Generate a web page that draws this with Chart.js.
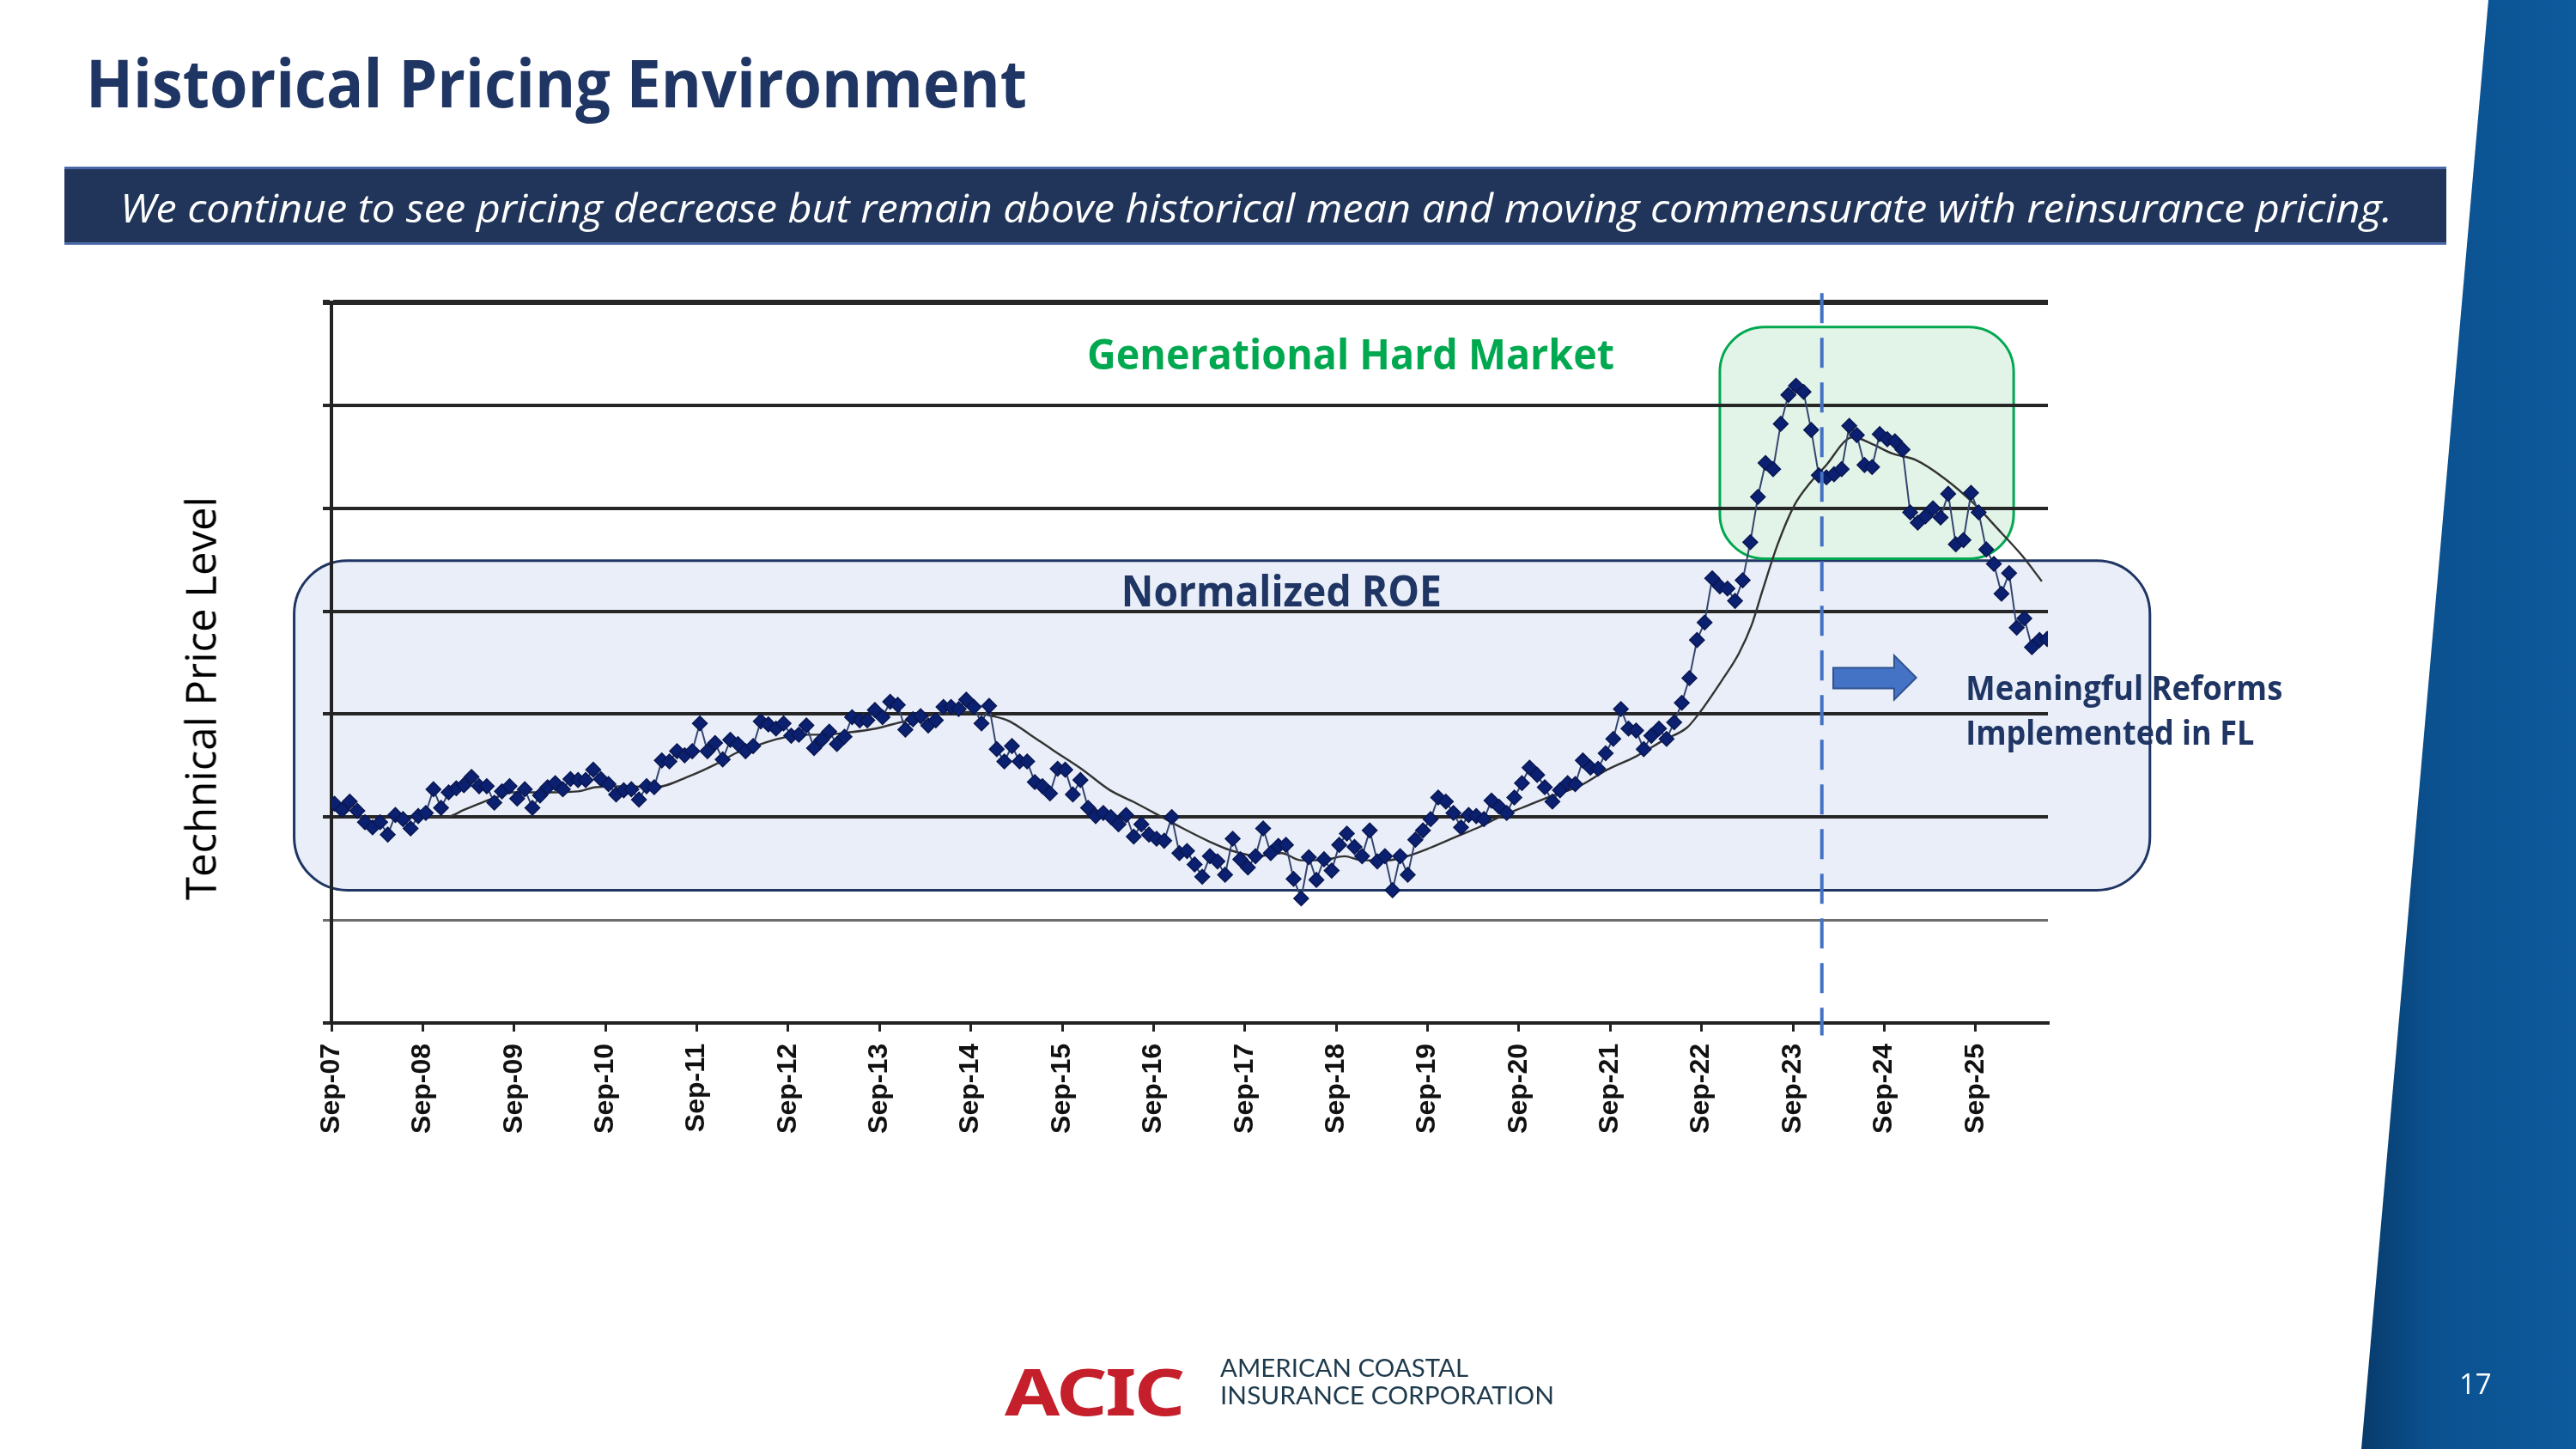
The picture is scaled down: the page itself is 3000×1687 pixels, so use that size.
<!DOCTYPE html>
<html>
<head>
<meta charset="utf-8">
<script src="https://cdn.jsdelivr.net/npm/chart.js@4.4.1/dist/chart.umd.min.js"></script>
<style>
html, body { margin: 0; padding: 0; background: #fff; }
#page { position: relative; width: 3000px; height: 1687px; overflow: hidden; background: #fff; }
#band { position: absolute; left: 2740px; top: 0; width: 260px; height: 1687px;
  background: linear-gradient(90deg, #073866 0%, #0b5190 35%, #0d5a9c 100%);
  clip-path: polygon(158px 0, 260px 0, 260px 1687px, 10px 1687px); }
#banner { position: absolute; left: 75px; top: 194px; width: 2774px; height: 85px;
  background: #203559; border-top: 3px solid #4a69a8; border-bottom: 3px solid #4a69a8; }
.txt { position: absolute; white-space: nowrap; line-height: 1; transform-origin: 0 0; }
#chart { position: absolute; left: 0; top: 0; }
</style>
</head>
<body>
<div id="page">
  <div id="band"></div>
  <div id="banner"></div>
  <canvas id="chart" width="3000" height="1687"></canvas>

  <div class="txt" data-w="1096" style="left:100px;top:43px;font:700 77px 'Open Sans';color:#1f3563;">Historical Pricing Environment</div>
  <div class="txt" data-w="2646" style="left:140px;top:210px;font:italic 400 46px 'Open Sans';color:#fff;">We continue to see pricing decrease but remain above historical mean and moving commensurate with reinsurance pricing.</div>
  <div class="txt" id="ylabel" style="font:400 49px 'Open Sans';color:#000;">Technical Price Level</div>

  <div class="txt" data-w="208" style="left:1170px;top:1568px;font:700 75px 'Noto Sans';color:#c41f2b;letter-spacing:-2px;">ACIC</div>
  <div class="txt" data-w="289" style="left:1421px;top:1575px;font:400 28px 'Lato';color:#1e3a4c;">AMERICAN COASTAL</div>
  <div class="txt" data-w="389" style="left:1421px;top:1607px;font:400 28px 'Lato';color:#1e3a4c;">INSURANCE CORPORATION</div>
  <div class="txt" style="left:2864px;top:1588px;font:400 33px 'Open Sans';color:#fff;">17</div>
</div>

<script>
// x axis: months since Sep-07
var tickMonths = [0, 12, 24, 36, 48, 60, 72, 84, 96, 108, 120, 132, 144, 156, 168, 180, 192, 204, 216];
var tickLabels = ['Sep-07', 'Sep-08', 'Sep-09', 'Sep-10', 'Sep-11', 'Sep-12', 'Sep-13', 'Sep-14', 'Sep-15',
  'Sep-16', 'Sep-17', 'Sep-18', 'Sep-19', 'Sep-20', 'Sep-21', 'Sep-22', 'Sep-23', 'Sep-24', 'Sep-25'];

// monthly technical price level, first point ~Sep-07
var priceLevel = [
  2.13, 2.07, 2.15, 2.06, 1.95, 1.90, 1.95, 1.83, 2.02, 1.98, 1.89, 2.01,
  2.04, 2.27, 2.09, 2.24, 2.28, 2.31, 2.39, 2.30, 2.30, 2.14, 2.25, 2.30,
  2.18, 2.27, 2.09, 2.21, 2.29, 2.33, 2.27, 2.37, 2.36, 2.36, 2.46, 2.37,
  2.32, 2.22, 2.26, 2.27, 2.17, 2.30, 2.29, 2.55, 2.54, 2.64, 2.60, 2.64,
  2.91, 2.64, 2.72, 2.56, 2.75, 2.71, 2.64, 2.69, 2.93, 2.90, 2.86, 2.91,
  2.79, 2.80, 2.89, 2.67, 2.75, 2.83, 2.71, 2.78, 2.97, 2.94, 2.94, 3.04,
  2.97, 3.12, 3.09, 2.85, 2.95, 2.98, 2.89, 2.94, 3.07, 3.07, 3.05, 3.14,
  3.07, 2.91, 3.08, 2.66, 2.54, 2.69, 2.54, 2.54, 2.34, 2.30, 2.23, 2.47,
  2.46, 2.22, 2.36, 2.09, 2.01, 2.04, 2.00, 1.93, 2.02, 1.81, 1.93, 1.83,
  1.79, 1.77, 2.00, 1.65, 1.67, 1.54, 1.42, 1.62, 1.57, 1.44, 1.79, 1.59,
  1.51, 1.62, 1.89, 1.65, 1.72, 1.73, 1.40, 1.21, 1.61, 1.39, 1.59, 1.48,
  1.73, 1.84, 1.71, 1.62, 1.87, 1.57, 1.62, 1.29, 1.62, 1.44, 1.78, 1.87,
  1.98, 2.19, 2.15, 2.04, 1.90, 2.02, 2.01, 1.98, 2.16, 2.10, 2.04, 2.19,
  2.33, 2.48, 2.41, 2.29, 2.15, 2.26, 2.33, 2.32, 2.55, 2.48, 2.47, 2.62,
  2.76, 3.05, 2.86, 2.84, 2.66, 2.79, 2.86, 2.76, 2.92, 3.11, 3.35, 3.72,
  3.89, 4.32, 4.24, 4.22, 4.10, 4.30, 4.67, 5.11, 5.44, 5.38, 5.82, 6.10,
  6.19, 6.13, 5.76, 5.32, 5.30, 5.33, 5.38, 5.80, 5.71, 5.42, 5.40, 5.72,
  5.67, 5.65, 5.57, 4.96, 4.86, 4.92, 5.00, 4.91, 5.14, 4.65, 4.69, 5.15,
  4.96, 4.60, 4.46, 4.17, 4.37, 3.84, 3.93, 3.65, 3.72, 3.73
];

// moving average line, read at sparse points
var maMonths = [11.8, 15.1, 17.4, 20.4, 21.9, 23.8, 27.5, 32.4, 34.7, 38.8, 42.5, 47.1, 50.4, 53.4, 55.7,
  58.7, 61.7, 64.7, 67.7, 71.5, 75.2, 79.7, 83.5, 86.9, 89.1, 91.8, 94.8, 98.5, 102.3, 105.3, 109.1,
  111.6, 115.4, 118.0, 121.8, 124.8, 127.4, 130.1, 133.1, 135.3, 138.7, 141.3, 144.3, 148.1, 150.7,
  153.7, 156.4, 160.1, 163.9, 167.6, 171.4, 175.1, 178.1, 179.6, 182.6, 184.9, 186.6, 188.0, 190.0,
  192.2, 194.3, 196.5, 198.8, 199.9, 202.5, 205.1, 208.1, 211.9, 215.7, 219.4, 222.1, 224.7];
var maValues = [2.00, 2.00, 2.07, 2.16, 2.20, 2.24, 2.24, 2.25, 2.29, 2.30, 2.29, 2.40, 2.51, 2.63, 2.69,
  2.76, 2.80, 2.80, 2.82, 2.86, 2.93, 3.00, 3.02, 2.98, 2.93, 2.80, 2.65, 2.47, 2.26, 2.15, 2.00,
  1.90, 1.76, 1.68, 1.62, 1.65, 1.58, 1.58, 1.62, 1.58, 1.58, 1.62, 1.70, 1.82, 1.90,
  2.01, 2.09, 2.20, 2.30, 2.46, 2.59, 2.75, 2.87, 3.00, 3.32, 3.59, 3.87, 4.20, 4.65,
  5.03, 5.25, 5.43, 5.65, 5.69, 5.62, 5.53, 5.47, 5.29, 5.05, 4.76, 4.54, 4.29];

var NAVY = '#1f3563';
var GREEN = '#00a84f';

function roundRect(ctx, x0, y0, x1, y1, r) {
  ctx.beginPath();
  ctx.moveTo(x0 + r, y0);
  ctx.lineTo(x1 - r, y0);
  ctx.arcTo(x1, y0, x1, y0 + r, r);
  ctx.lineTo(x1, y1 - r);
  ctx.arcTo(x1, y1, x1 - r, y1, r);
  ctx.lineTo(x0 + r, y1);
  ctx.arcTo(x0, y1, x0, y1 - r, r);
  ctx.lineTo(x0, y0 + r);
  ctx.arcTo(x0, y0, x0 + r, y0, r);
  ctx.closePath();
}

function fitText(ctx, str, x, y, width, font, color, align) {
  ctx.save();
  ctx.font = font;
  var w = ctx.measureText(str).width;
  ctx.translate(x, y);
  ctx.scale(width / w, 1);
  ctx.fillStyle = color;
  ctx.textAlign = align;
  ctx.textBaseline = 'alphabetic';
  ctx.fillText(str, 0, 0);
  ctx.restore();
}

var annotations = {
  id: 'annotations',
  beforeDraw: function (chart) {
    var ctx = chart.ctx, x = chart.scales.x, y = chart.scales.y;
    ctx.save();
    // Normalized ROE band
    roundRect(ctx, x.getPixelForValue(-4.9), y.getPixelForValue(4.49),
      x.getPixelForValue(238.9), y.getPixelForValue(1.29), 62);
    ctx.fillStyle = '#e9eef8';
    ctx.fill();
    ctx.lineWidth = 3;
    ctx.strokeStyle = NAVY;
    ctx.stroke();
    // hard market box
    roundRect(ctx, x.getPixelForValue(182.4), y.getPixelForValue(6.76),
      x.getPixelForValue(221.0), y.getPixelForValue(4.51), 52);
    ctx.fillStyle = '#e2f4e8';
    ctx.fill();
    ctx.lineWidth = 3;
    ctx.strokeStyle = GREEN;
    ctx.stroke();
    ctx.restore();
  },
  afterDraw: function (chart) {
    var ctx = chart.ctx, x = chart.scales.x, y = chart.scales.y;
    ctx.save();
    // reform date
    var dx = x.getPixelForValue(195.8);
    ctx.beginPath();
    ctx.setLineDash([35, 17]);
    ctx.lineWidth = 4;
    ctx.strokeStyle = '#4472c4';
    ctx.moveTo(dx, y.getPixelForValue(7.09));
    ctx.lineTo(dx, y.getPixelForValue(-0.12));
    ctx.stroke();
    ctx.setLineDash([]);

    // arrow
    var ax0 = x.getPixelForValue(197.3), ax1 = x.getPixelForValue(205.3), ax2 = x.getPixelForValue(208.2);
    var ayT = y.getPixelForValue(3.57), ays0 = y.getPixelForValue(3.45), ays1 = y.getPixelForValue(3.25), ayB = y.getPixelForValue(3.14);
    var aym = (ayT + ayB) / 2;
    ctx.beginPath();
    ctx.moveTo(ax0, ays0);
    ctx.lineTo(ax1, ays0);
    ctx.lineTo(ax1, ayT);
    ctx.lineTo(ax2, aym);
    ctx.lineTo(ax1, ayB);
    ctx.lineTo(ax1, ays1);
    ctx.lineTo(ax0, ays1);
    ctx.closePath();
    ctx.fillStyle = '#4472c4';
    ctx.fill();
    ctx.lineWidth = 2;
    ctx.strokeStyle = '#2f528f';
    ctx.stroke();

    fitText(ctx, 'Generational Hard Market', x.getPixelForValue(133.9), y.getPixelForValue(6.35), 614,
      '700 48px "Open Sans"', GREEN, 'center');
    fitText(ctx, 'Normalized ROE', x.getPixelForValue(124.8), y.getPixelForValue(4.05), 373,
      '700 50px "Open Sans"', NAVY, 'center');
    fitText(ctx, 'Meaningful Reforms', x.getPixelForValue(214.7), y.getPixelForValue(3.14), 369,
      '700 40px "Open Sans"', NAVY, 'left');
    fitText(ctx, 'Implemented in FL', x.getPixelForValue(214.7), y.getPixelForValue(2.70), 336,
      '700 40px "Open Sans"', NAVY, 'left');
    ctx.restore();
  }
};

new Chart(document.getElementById('chart'), {
  type: 'line',
  data: {
    datasets: [{
      label: 'Technical Price Level',
      data: priceLevel.map(function (v, i) { return { x: i + 0.4, y: v }; }),
      borderColor: '#34456f',
      borderWidth: 2,
      pointStyle: 'rectRot',
      pointRadius: 8.5,
      pointBackgroundColor: '#0b2070',
      pointBorderColor: '#0a1852',
      pointBorderWidth: 1.5,
      tension: 0
    }, {
      label: 'Trend',
      data: maMonths.map(function (m, i) { return { x: m, y: maValues[i] }; }),
      borderColor: '#333',
      borderWidth: 2.4,
      pointRadius: 0,
      cubicInterpolationMode: 'monotone'
    }]
  },
  options: {
    responsive: false,
    animation: false,
    layout: { padding: { left: 0, top: 352, right: 615, bottom: 0 } },
    plugins: { legend: { display: false }, tooltip: { enabled: false } },
    scales: {
      x: {
        type: 'linear',
        min: 0,
        max: 225.5,
        afterFit: function (scale) { scale.height = 496; },
        afterBuildTicks: function (scale) {
          scale.ticks = tickMonths.map(function (m) { return { value: m }; });
        },
        ticks: {
          autoSkip: false,
          minRotation: 90,
          maxRotation: 90,
          padding: 14,
          color: '#111',
          font: { family: 'Liberation Sans', weight: 'bold', size: 32 },
          callback: function (value, index) { return tickLabels[index]; }
        },
        grid: { drawOnChartArea: false, drawTicks: true, tickLength: 10, color: '#222', lineWidth: 3 },
        border: { display: true, color: '#222', width: 4 }
      },
      y: {
        min: 0,
        max: 7,
        afterFit: function (scale) { scale.width = 386; },
        ticks: { display: false, stepSize: 1 },
        grid: {
          drawTicks: true,
          tickLength: 10,
          color: function (c) { return c.tick && c.tick.value === 1 ? '#6e6e6e' : '#262626'; },
          lineWidth: function (c) {
            if (!c.tick) return 4;
            if (c.tick.value === 7) return 6;
            if (c.tick.value === 1) return 3;
            return 4;
          }
        },
        border: { display: true, color: '#222', width: 4 }
      }
    }
  },
  plugins: [annotations]
});

// squeeze page texts to the widths they take in the slide
function fitAll() {
  document.querySelectorAll('.txt[data-w]').forEach(function (el) {
    el.style.transform = 'none';
    var w = el.getBoundingClientRect().width;
    el.style.transform = 'scaleX(' + (parseFloat(el.dataset.w) / w) + ')';
  });
  var yl = document.getElementById('ylabel');
  yl.style.transform = 'none';
  var ow = yl.getBoundingClientRect().width, oh = yl.getBoundingClientRect().height;
  yl.style.transformOrigin = '50% 50%';
  yl.style.left = (233 - ow / 2) + 'px';
  yl.style.top = (813 - oh / 2) + 'px';
  yl.style.transform = 'rotate(-90deg) scaleX(' + (470 / ow) + ')';
}
fitAll();
if (document.fonts && document.fonts.ready) document.fonts.ready.then(fitAll);
</script>
</body>
</html>
